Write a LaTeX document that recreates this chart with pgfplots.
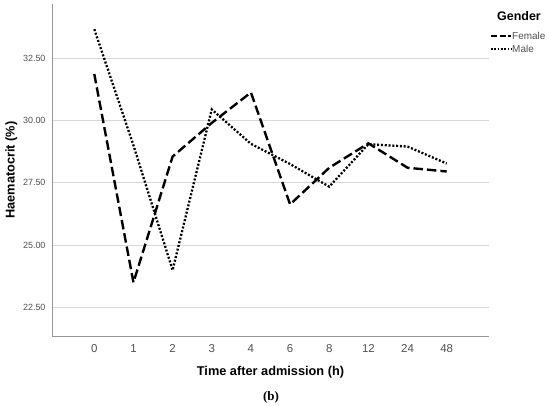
\documentclass[border=0pt]{standalone}
\usepackage{pgfplots}
\pgfplotsset{compat=1.18}
\usepackage{fontspec}
\setmainfont{Liberation Sans}
\newfontfamily\seriffont{Liberation Serif}
\definecolor{gridc}{RGB}{215,215,215}
\definecolor{axc}{RGB}{150,150,150}
\definecolor{tickc}{RGB}{80,80,80}
\begin{document}
\begin{tikzpicture}[x=1bp,y=1bp]
\useasboundingbox (0,0) rectangle (550,405);
\begin{axis}[
  at={(52bp,69bp)}, anchor=south west,
  scale only axis, width=437bp, height=332bp,
  xmin=-1.08, xmax=10.08, ymin=21.35, ymax=34.67,
  axis x line*=bottom, axis y line*=left,
  axis line style={axc, line width=0.8pt, -},
  xtick={0,1,2,3,4,5,6,7,8,9},
  xticklabels={0,1,2,3,4,6,8,12,24,48},
  ytick={22.5,25,27.5,30,32.5},
  yticklabels={22.50,25.00,27.50,30.00,32.50},
  major tick length=0pt,
  ymajorgrids, grid style={gridc, line width=0.8pt},
  x tick label style={font=\fontsize{11.5}{13}\selectfont, text=tickc, yshift=-5bp},
  y tick label style={font=\fontsize{9}{10}\selectfont, text=tickc, xshift=-3bp},
  xlabel={\bfseries Time after admission (h)},
  xlabel style={font=\fontsize{12.8}{15}\selectfont, yshift=-7bp},
  ylabel={\bfseries Haematocrit (\%)},
  ylabel style={font=\fontsize{12.8}{15}\selectfont, yshift=-1bp},
  clip=false,
]
\addplot[black, line width=2.4pt, dash pattern=on 9.5bp off 4bp] coordinates {
(0,31.86) (1,23.5) (2,28.55) (3,29.9) (4,31.12) (5,26.63) (6,28.1) (7,29.08) (8,28.1) (9,27.95)};
\addplot[black, line width=2.3pt, dash pattern=on 2bp off 1.8bp] coordinates {
(0,33.66) (1,29.0) (2,23.99) (3,30.44) (4,29.06) (5,28.25) (6,27.34) (7,29.05) (8,28.95) (9,28.27)};
\end{axis}
\node[font=\fontsize{12.5}{14}\selectfont\bfseries, anchor=west, inner sep=0pt] at (497,389) {Gender};
\draw[black, line width=2pt, dash pattern=on 6bp off 2.5bp] (491,369) -- (511,369);
\draw[black, line width=2pt, dash pattern=on 1.8bp off 1.5bp] (491,356) -- (511,356);
\node[font=\fontsize{10}{11}\selectfont, text=tickc, anchor=west, inner sep=1bp] at (511,369) {Female};
\node[font=\fontsize{10}{11}\selectfont, text=tickc, anchor=west, inner sep=1bp] at (511,356) {Male};
\node[font=\fontsize{13}{14}\selectfont\seriffont\bfseries] at (271,8) {(b)};
\end{tikzpicture}
\end{document}
